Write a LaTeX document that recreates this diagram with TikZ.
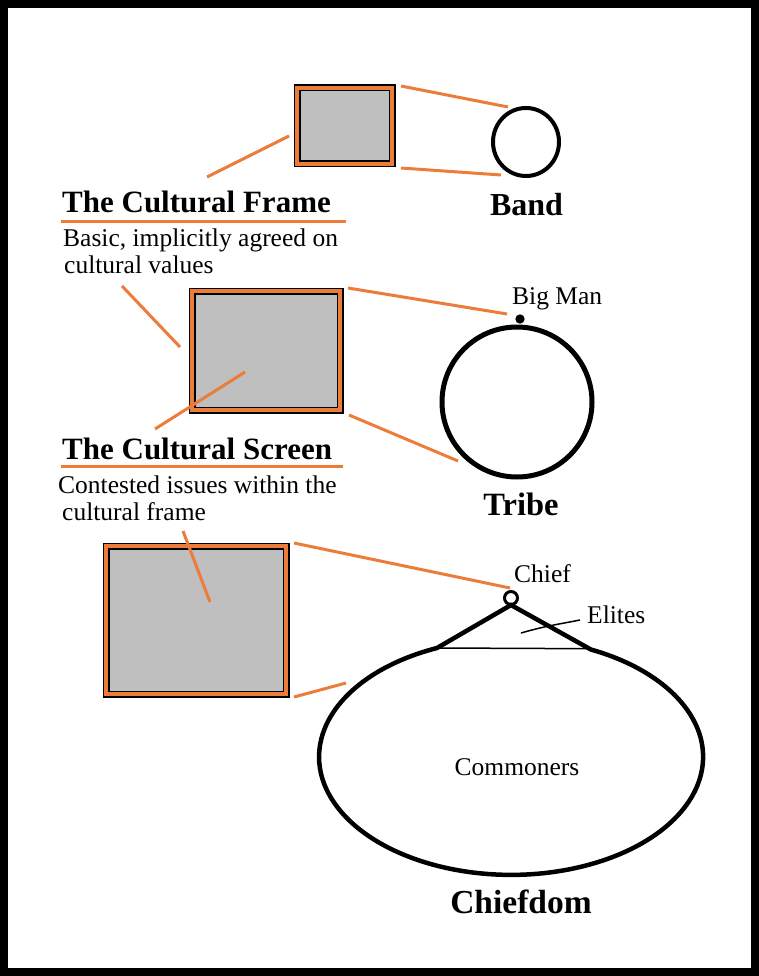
\documentclass[tikz,border=0pt]{standalone}
\usepackage{fontspec}
\usetikzlibrary{shapes.geometric}
\setmainfont{Liberation Serif}
\definecolor{accent}{RGB}{236,124,58}
\definecolor{boxgray}{RGB}{191,191,191}
\begin{document}
\begin{tikzpicture}[x=1pt,y=-1pt,
  txt/.style={inner sep=0pt, anchor=base west, font=\fontsize{25.5}{30}\selectfont},
  title/.style={inner sep=0pt, anchor=base west, font=\fontsize{31}{36}\selectfont\bfseries},
  society/.style={inner sep=0pt, anchor=base, font=\fontsize{32.5}{38}\selectfont\bfseries},
  screenbox/.style={rectangle, inner sep=0pt, draw=black, line width=1.5pt, double=accent, double distance=4pt, fill=boxgray},
  link/.style={draw=accent, line width=3pt},
  ring/.style={circle, draw=black, inner sep=0pt}
]
\useasboundingbox (0,0) rectangle (759,976);
\draw[line width=8pt] (4,4) rectangle (755,972);

% boxes
\node[screenbox, minimum width=95pt, minimum height=76pt] (box1) at (344.5,126) {};
\node[screenbox, minimum width=148pt, minimum height=119pt] (box2) at (266,350.5) {};
\node[screenbox, minimum width=180pt, minimum height=148pt] (box3) at (196,620) {};

% societies
\node[ellipse, draw=black, inner sep=0pt, line width=4pt, minimum width=66pt, minimum height=68pt] (band) at (526,142) {};
\node[ring, line width=5pt, minimum size=150pt] (tribe) at (517,402) {};
\node[ring, line width=4pt, minimum size=5pt, fill=white] (bigman) at (520,319) {};
\node[ring, line width=3pt, minimum size=13pt, fill=white] (chief) at (511,598) {};

% labels
\node[title] (frametitle) at (62,213) {The Cultural Frame};
\node[txt] (frametxt1) at (63,247) {Basic, implicitly agreed on};
\node[txt] (frametxt2) at (64,273) {cultural values};
\node[title] (screentitle) at (62,459) {The Cultural Screen};
\node[txt] (screentxt1) at (58,493) {Contested issues within the};
\node[txt] (screentxt2) at (62,520) {cultural frame};

\node[society, font=\fontsize{32}{38}\selectfont\bfseries] (bandlbl) at (526.5,215) {Band};
\node[society] (tribelbl) at (521,515) {Tribe};
\node[society, font=\fontsize{33.5}{40}\selectfont\bfseries] (chiefdomlbl) at (521,913) {Chiefdom};
\node[txt] (bigmanlbl) at (512,304) {Big Man};
\node[txt] (chieflbl) at (514,582) {Chief};
\node[txt] (eliteslbl) at (587,623) {Elites};
\node[txt, anchor=base] (commonlbl) at (517,775) {Commoners};

% underlines
\coordinate (u1a) at (61,222); \coordinate (u1b) at (346,222);
\coordinate (u2a) at (61,466); \coordinate (u2b) at (343,466);
\draw[link] (u1a) -- (u1b);
\draw[link] (u2a) -- (u2b);

% orange connectors
\coordinate (b1tr) at (401,86);   \coordinate (bandt) at (508,107);
\coordinate (b1br) at (401,168);  \coordinate (bandb) at (501,175);
\coordinate (b1l) at (289,136);   \coordinate (ft) at (207,177);
\coordinate (fx) at (122,286);    \coordinate (b2l) at (180,347);
\coordinate (b2in) at (245,372);  \coordinate (st) at (155,429);
\coordinate (b2tr) at (348,288);  \coordinate (tribet) at (507,314);
\coordinate (b2br) at (349,415);  \coordinate (tribeb) at (458,461);
\coordinate (sx) at (183,531);    \coordinate (b3in) at (210,602);
\coordinate (b3tr) at (294,543);  \coordinate (chieft) at (510,588);
\coordinate (b3br) at (294,697);  \coordinate (chiefdomb) at (346,683);
\draw[link] (b1tr) -- (bandt);
\draw[link] (b1br) -- (bandb);
\draw[link] (b1l) -- (ft);
\draw[link] (fx) -- (b2l);
\draw[link] (b2in) -- (st);
\draw[link] (b2tr) -- (tribet);
\draw[link] (b2br) -- (tribeb);
\draw[link] (sx) -- (b3in);
\draw[link] (b3tr) -- (chieft);
\draw[link] (b3br) -- (chiefdomb);

% chiefdom teardrop: ellipse centre (510,756), rx 192, ry 118, top cut off
\coordinate (apex) at (511,605);
\coordinate (tl) at (437,648);
\coordinate (tr) at (590,648.7);
\draw[line width=4.5pt, line join=miter] (apex) -- (tl)
  arc[start angle=112.7, end angle=425.4, x radius=192pt, y radius=118pt] -- cycle;
\draw[line width=1.5pt] (tl) -- (tr);
\coordinate (elitesin) at (521,633);
\coordinate (elitesout) at (580,620);
\draw[line width=1.5pt] (elitesin) .. controls (545,626) and (560,624) .. (elitesout);
\end{tikzpicture}
\end{document}
